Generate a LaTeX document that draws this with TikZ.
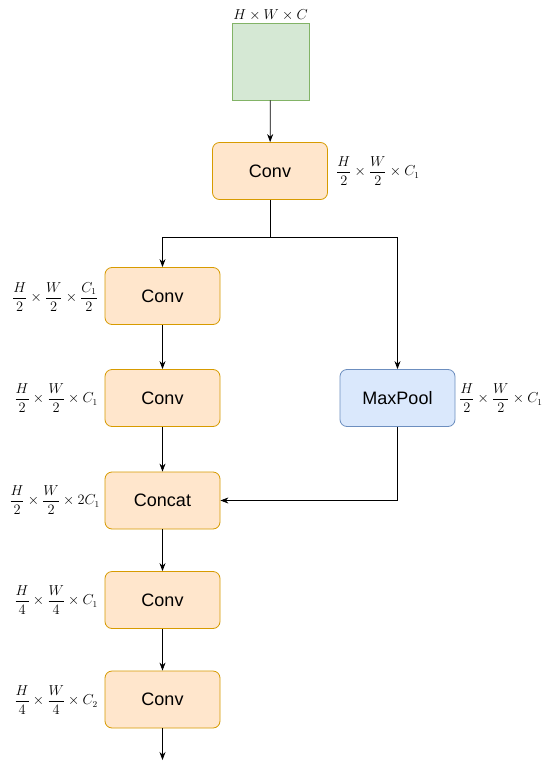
\documentclass[tikz,border=0pt]{standalone}
\usepackage{fontspec}
\usepackage{amsmath}
\newfontfamily\boxfont{Liberation Sans}
\usetikzlibrary{arrows.meta,positioning}
\definecolor{orfill}{HTML}{FFE6CC}
\definecolor{ordraw}{HTML}{D79B00}
\definecolor{grfill}{HTML}{D5E8D4}
\definecolor{grdraw}{HTML}{82B366}
\definecolor{blfill}{HTML}{DAE8FC}
\definecolor{bldraw}{HTML}{6C8EBF}
\tikzset{
  opbox/.style={draw=ordraw, fill=orfill, rounded corners=7pt, minimum width=115pt, minimum height=57pt, inner sep=0pt, line width=0.8pt, font=\boxfont\fontsize{18}{20}\selectfont},
  poolbox/.style={opbox, draw=bldraw, fill=blfill},
  inbox/.style={draw=grdraw, fill=grfill, minimum width=77pt, minimum height=77pt, inner sep=0pt, line width=0.8pt},
  dimlbl/.style={inner sep=0pt, font=\fontsize{13.5}{15}\selectfont},
  conn/.style={line width=0.8pt, -{Stealth[length=8pt,width=6pt]}},
  plain/.style={line width=0.8pt}
}
\begin{document}
\begin{tikzpicture}[x=1pt,y=-1pt]
\useasboundingbox[fill=white] (0,0) rectangle (550,768);
\node[inbox] (in) at (270.5,61.5) {};
\node[dimlbl, anchor=south] (lin) at (270.5,21) {$H\times W\times C$};
\node[opbox] (c1) at (270,171) {Conv};
\node[dimlbl, anchor=west] (l1) at (336,171) {$\dfrac{H}{2}\times\dfrac{W}{2}\times C_1$};
\node[opbox] (c2) at (162.5,296) {Conv};
\node[dimlbl, anchor=east] (l2) at (98,297) {$\dfrac{H}{2}\times\dfrac{W}{2}\times\dfrac{C_1}{2}$};
\node[opbox] (c3) at (162.5,398) {Conv};
\node[dimlbl, anchor=east] (l3) at (98,398) {$\dfrac{H}{2}\times\dfrac{W}{2}\times C_1$};
\node[poolbox] (mp) at (397.5,398) {MaxPool};
\node[dimlbl, anchor=west] (lmp) at (459,398) {$\dfrac{H}{2}\times\dfrac{W}{2}\times C_1$};
\node[opbox] (cc) at (162.5,500.5) {Concat};
\node[dimlbl, anchor=east] (lcc) at (100,500) {$\dfrac{H}{2}\times\dfrac{W}{2}\times 2C_1$};
\node[opbox] (c4) at (162.5,600) {Conv};
\node[dimlbl, anchor=east] (l4) at (98,600) {$\dfrac{H}{4}\times\dfrac{W}{4}\times C_1$};
\node[opbox] (c5) at (162.5,699.5) {Conv};
\node[dimlbl, anchor=east] (l5) at (98,700) {$\dfrac{H}{4}\times\dfrac{W}{4}\times C_2$};
\coordinate (split) at (270,237);
\coordinate (out) at (162.5,760);
\draw[conn] (in) -- (c1);
\draw[plain] (c1.south) -- (split);
\draw[conn] (split) -| (c2.north);
\draw[conn] (split) -| (mp.north);
\draw[conn] (c2) -- (c3);
\draw[conn] (c3) -- (cc);
\draw[conn] (mp.south) |- (cc.east);
\draw[conn] (cc) -- (c4);
\draw[conn] (c4) -- (c5);
\draw[conn] (c5.south) -- (out);
\end{tikzpicture}
\end{document}
